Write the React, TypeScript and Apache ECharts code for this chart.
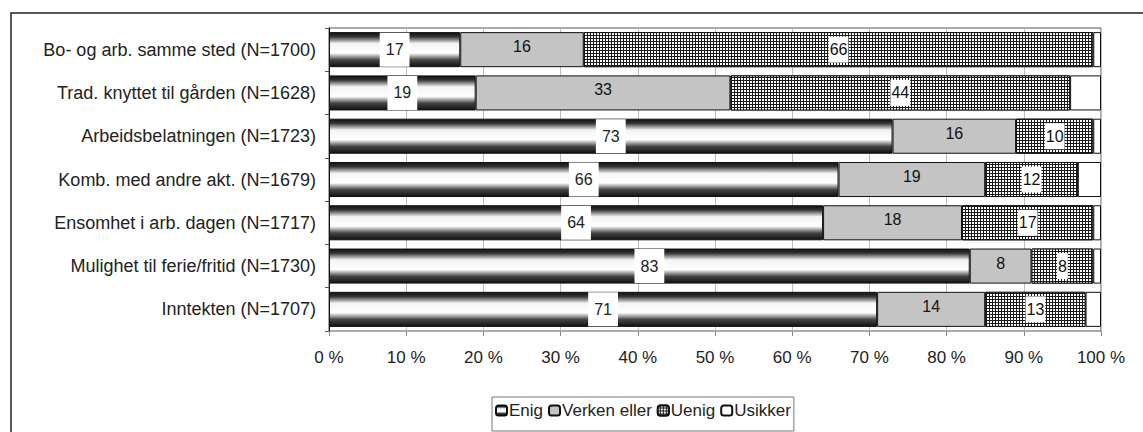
import React, { useEffect, useRef } from "react";
import * as echarts from "echarts";

const categories = [
  "Bo- og arb. samme sted (N=1700)",
  "Trad. knyttet til gården (N=1628)",
  "Arbeidsbelatningen (N=1723)",
  "Komb. med andre akt. (N=1679)",
  "Ensomhet i arb. dagen (N=1717)",
  "Mulighet til ferie/fritid (N=1730)",
  "Inntekten (N=1707)",
];
const seriesNames = ["Enig", "Verken eller", "Uenig", "Usikker"];
const enig = [17, 19, 73, 66, 64, 83, 71];
const verken = [16, 33, 16, 19, 18, 8, 14];
const uenig = [66, 44, 10, 12, 17, 8, 13];
const usikker = [1, 4, 1, 3, 1, 1, 2];
const xTicks = [0, 10, 20, 30, 40, 50, 60, 70, 80, 90, 100];

const FONT = "'Liberation Sans', Arial, sans-serif";

export default function App() {
  const ref = useRef<HTMLDivElement>(null);
  useEffect(() => {
    if (!ref.current) return;
    const chart = echarts.init(ref.current, null, { renderer: "svg" });
    const enigGrad = new echarts.graphic.LinearGradient(0, 0, 0, 1, [
      { offset: 0, color: "#111" },
      { offset: 0.12, color: "#333" },
      { offset: 0.32, color: "#f4f4f4" },
      { offset: 0.6, color: "#ffffff" },
      { offset: 0.8, color: "#444" },
      { offset: 1, color: "#111" },
    ]);
    const border = { borderColor: "#111", borderWidth: 1 };
    chart.setOption({
      animation: false,
      backgroundColor: "#fff",
      textStyle: { fontFamily: FONT },
      graphic: [
        {
          type: "rect",
          shape: { x: 11, y: 13, width: 1300, height: 600 },
          style: { fill: "none", stroke: "#222", lineWidth: 1.5 },
          silent: true,
        },
      ],
      grid: {
        left: 329,
        right: 42,
        top: 28,
        bottom: 101,
        show: true,
        borderColor: "#555",
        borderWidth: 1,
      },
      legend: {
        data: seriesNames,
        left: 492,
        top: 397,
        orient: "horizontal",
        itemWidth: 11,
        itemHeight: 10,
        itemGap: 5,
        padding: [5, 3, 12, 3],
        borderColor: "#777",
        borderWidth: 1,
        textStyle: { fontSize: 17, color: "#222", fontFamily: FONT, padding: [0, 0, 0, -3] },
      },
      xAxis: {
        type: "value",
        min: 0,
        max: 100,
        interval: 10,
        axisLine: { show: false },
        axisTick: { show: true, length: 5, lineStyle: { color: "#888" } },
        splitLine: { show: true, lineStyle: { color: "#bbb", width: 1 } },
        axisLabel: {
          formatter: (v: number) => (xTicks.includes(v) ? `${v} %` : ""),
          fontSize: 17,
          color: "#222",
          margin: 18,
          fontFamily: FONT,
        },
      },
      yAxis: {
        type: "category",
        data: categories,
        inverse: true,
        axisLine: { show: true, lineStyle: { color: "#111", width: 1 } },
        axisTick: { show: true, length: 4, lineStyle: { color: "#555" } },
        axisLabel: { fontSize: 18, color: "#222", margin: 13, fontFamily: FONT },
      },
      series: [
        {
          name: "Enig",
          type: "bar",
          stack: "s",
          barCategoryGap: "19%",
          data: enig,
          itemStyle: { color: enigGrad, ...border },
          label: {
            show: true,
            position: "inside",
            fontSize: 16,
            color: "#222",
            backgroundColor: "#fff",
            padding: [7, 6, 11, 6],
            fontFamily: FONT,
          },
        },
        {
          name: "Verken eller",
          type: "bar",
          stack: "s",
          data: verken,
          itemStyle: { color: "#c4c4c4", ...border },
          label: {
            show: true,
            position: "inside",
            fontSize: 16,
            color: "#111",
            offset: [0, -3],
            fontFamily: FONT,
          },
        },
        {
          name: "Uenig",
          type: "bar",
          stack: "s",
          data: uenig,
          itemStyle: {
            color: "#1a1a1a",
            ...border,
            decal: {
              symbol: "rect",
              symbolSize: 1,
              color: "#ffffff",
              dashArrayX: [2, 1],
              dashArrayY: [2, 1],
              rotation: 0,
            },
          },
          label: {
            show: true,
            position: "inside",
            fontSize: 16,
            color: "#111",
            backgroundColor: "#fff",
            padding: [0, 1, 10, 1],
            fontFamily: FONT,
          },
        },
        {
          name: "Usikker",
          type: "bar",
          stack: "s",
          data: usikker,
          itemStyle: { color: "#fff", ...border },
          label: { show: false },
        },
      ],
    });
    return () => chart.dispose();
  }, []);
  return (
    <div
      ref={ref}
      style={{ position: "fixed", left: 0, top: 0, width: 1143, height: 432 }}
    />
  );
}
